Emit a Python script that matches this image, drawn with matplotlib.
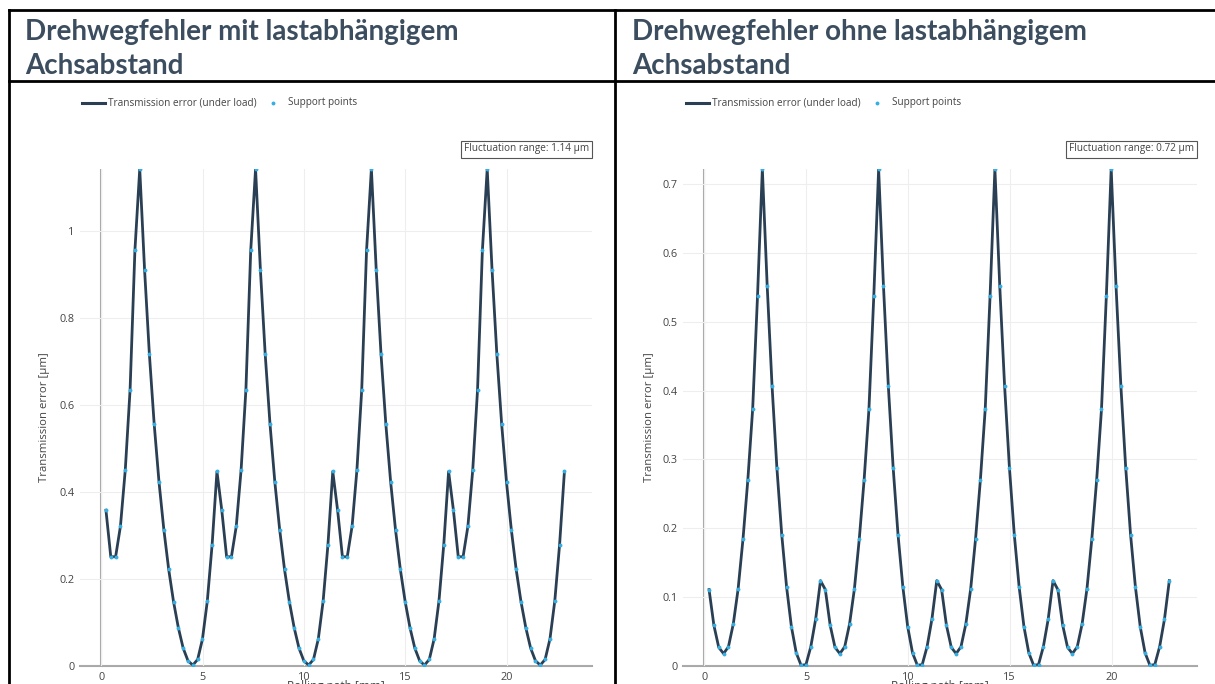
import numpy as np
import matplotlib.pyplot as plt
from matplotlib.lines import Line2D
from matplotlib.ticker import FuncFormatter, MultipleLocator

# Abtastpunkte entlang des Waelzwegs [mm], 96 Stuetzstellen
weg = np.linspace(0.23, 22.84, 96)

# Drehwegfehler mit lastabhaengigem Achsabstand [um] (4 Zahneingriffe je 24 Punkte)
fehler_mit = [
    0.358, 0.251, 0.251, 0.321, 0.450, 0.635, 0.955, 1.142, 0.911, 0.716, 0.555, 0.422,
    0.313, 0.222, 0.148, 0.088, 0.041, 0.012, 0.002, 0.015, 0.062, 0.149, 0.279, 0.447,
    0.358, 0.251, 0.251, 0.321, 0.450, 0.635, 0.955, 1.142, 0.911, 0.716, 0.555, 0.422,
    0.313, 0.222, 0.148, 0.088, 0.041, 0.012, 0.002, 0.015, 0.062, 0.149, 0.279, 0.447,
    0.358, 0.251, 0.251, 0.321, 0.450, 0.635, 0.955, 1.142, 0.911, 0.716, 0.555, 0.422,
    0.313, 0.222, 0.148, 0.088, 0.041, 0.012, 0.002, 0.015, 0.062, 0.149, 0.279, 0.447,
    0.358, 0.251, 0.251, 0.321, 0.450, 0.635, 0.955, 1.142, 0.911, 0.716, 0.555, 0.422,
    0.313, 0.222, 0.148, 0.088, 0.041, 0.012, 0.002, 0.015, 0.062, 0.149, 0.279, 0.447,
]

# Drehwegfehler ohne lastabhaengigen Achsabstand [um]
fehler_ohne = [
    0.111, 0.059, 0.027, 0.018, 0.028, 0.061, 0.112, 0.184, 0.270, 0.373, 0.537, 0.722,
    0.552, 0.407, 0.288, 0.191, 0.115, 0.057, 0.019, 0.001, 0.002, 0.028, 0.068, 0.124,
    0.111, 0.059, 0.027, 0.018, 0.028, 0.061, 0.112, 0.184, 0.270, 0.373, 0.537, 0.722,
    0.552, 0.407, 0.288, 0.191, 0.115, 0.057, 0.019, 0.001, 0.002, 0.028, 0.068, 0.124,
    0.111, 0.059, 0.027, 0.018, 0.028, 0.061, 0.112, 0.184, 0.270, 0.373, 0.537, 0.722,
    0.552, 0.407, 0.288, 0.191, 0.115, 0.057, 0.019, 0.001, 0.002, 0.028, 0.068, 0.124,
    0.111, 0.059, 0.027, 0.018, 0.028, 0.061, 0.112, 0.184, 0.270, 0.373, 0.537, 0.722,
    0.552, 0.407, 0.288, 0.191, 0.115, 0.057, 0.019, 0.001, 0.002, 0.028, 0.068, 0.124,
]

titel = [("Drehwegfehler mit lastabhängigem", "Achsabstand"),
         ("Drehwegfehler ohne lastabhängigem", "Achsabstand")]
legende = ["Transmission error (under load)", "Support points"]
x_titel = "Rolling path [mm]"
y_titel = "Transmission error [µm]"
y_schritt = [0.2, 0.1]

LINIE = "#2a3f54"
PUNKT = "#35aee2"
GRAU = "#444444"
TITEL_FARBE = "#3b4d5e"

W, H = 1215, 684
fig = plt.figure(figsize=(W / 100, H / 100), dpi=100)


def fx(px):
    return px / W


def fy(py):
    return 1 - py / H


# Tabellenrahmen
rahmen = [((9, 1215), (10, 10)), ((9, 1215), (81, 81)),
          ((9, 9), (10, 684)), ((615, 615), (10, 684))]
for xs, ys in rahmen:
    fig.add_artist(Line2D([fx(xs[0]), fx(xs[1])], [fy(ys[0]), fy(ys[1])],
                          color="black", lw=2.0))

# Plotbereiche in Pixeln: links, rechts, oben, unten
bereiche = [(80, 592, 169, 666), (683, 1197, 169, 666)]
titel_x = [25, 632]
ylabel_x = [45, 649]
legende_x = [82, 686]

for i, (daten, (l, r, o, u)) in enumerate(zip([fehler_mit, fehler_ohne], bereiche)):
    daten = np.array(daten)
    ax = fig.add_axes([fx(l), fy(u), (r - l) / W, (u - o) / H])
    ax.plot(weg, daten, color=LINIE, lw=2.0, zorder=3)
    ax.plot(weg, daten, ls="none", marker="o", ms=2.8, mec="none", color=PUNKT, zorder=4)
    ax.set_xlim(-1.05, 24.2)
    ax.set_ylim(0, daten.max())
    ax.xaxis.set_major_locator(MultipleLocator(5))
    ax.yaxis.set_major_locator(MultipleLocator(y_schritt[i]))
    ax.xaxis.set_major_formatter(FuncFormatter(lambda v, _: f"{v:g}"))
    ax.yaxis.set_major_formatter(FuncFormatter(lambda v, _: f"{v:g}"))
    ax.grid(True, color="#eeeeee", lw=0.8, zorder=0)
    ax.axvline(0, color="#a8a8a8", lw=1.5, zorder=1)
    ax.axhline(0, color="#a8a8a8", lw=1.5, zorder=1, clip_on=False)
    for s in ax.spines.values():
        s.set_visible(False)
    ax.tick_params(length=0, labelsize=7.8, labelcolor=GRAU, pad=4)
    for t in ax.get_xticklabels() + ax.get_yticklabels():
        t.set_fontfamily("Open Sans")

    # Achsentitel
    fig.text(fx((l + r) / 2), fy(687), x_titel, ha="center", va="center",
             fontsize=8.5, color=GRAU, family="Open Sans")
    fig.text(fx(ylabel_x[i]), fy((o + u) / 2), y_titel, ha="center", va="center",
             rotation=90, fontsize=8.2, color=GRAU, family="Open Sans")

    # Schwankungsbreite
    spanne = daten.max() - daten.min()
    fig.text(fx(r - 3), fy(149), f"Fluctuation range: {spanne:.2f} µm", ha="right",
             va="center", fontsize=7.2, color=GRAU, family="Open Sans",
             bbox=dict(boxstyle="square,pad=0.3", fc="white", ec="#555555", lw=0.8))

    # Legende
    lx = legende_x[i]
    fig.add_artist(Line2D([fx(lx), fx(lx + 23)], [fy(103), fy(103)], color=LINIE, lw=2.2))
    fig.text(fx(lx + 26), fy(103), legende[0], va="center", fontsize=7.2,
             color=GRAU, family="Open Sans")
    fig.add_artist(Line2D([fx(lx + 191)], [fy(103)], ls="none", marker="o", ms=2.8,
                          mec="none", color=PUNKT))
    fig.text(fx(lx + 206), fy(103), legende[1], va="center", fontsize=7.2,
             color=GRAU, family="Open Sans")

    # Kopfzeile, zwei Zeilen
    for zeile, basis in zip(titel[i], [40, 74]):
        fig.text(fx(titel_x[i]), fy(basis), zeile, ha="left", va="baseline",
                 fontsize=20, color=TITEL_FARBE, family="Lato", weight="bold")

fig.savefig("out.png", dpi=100)
